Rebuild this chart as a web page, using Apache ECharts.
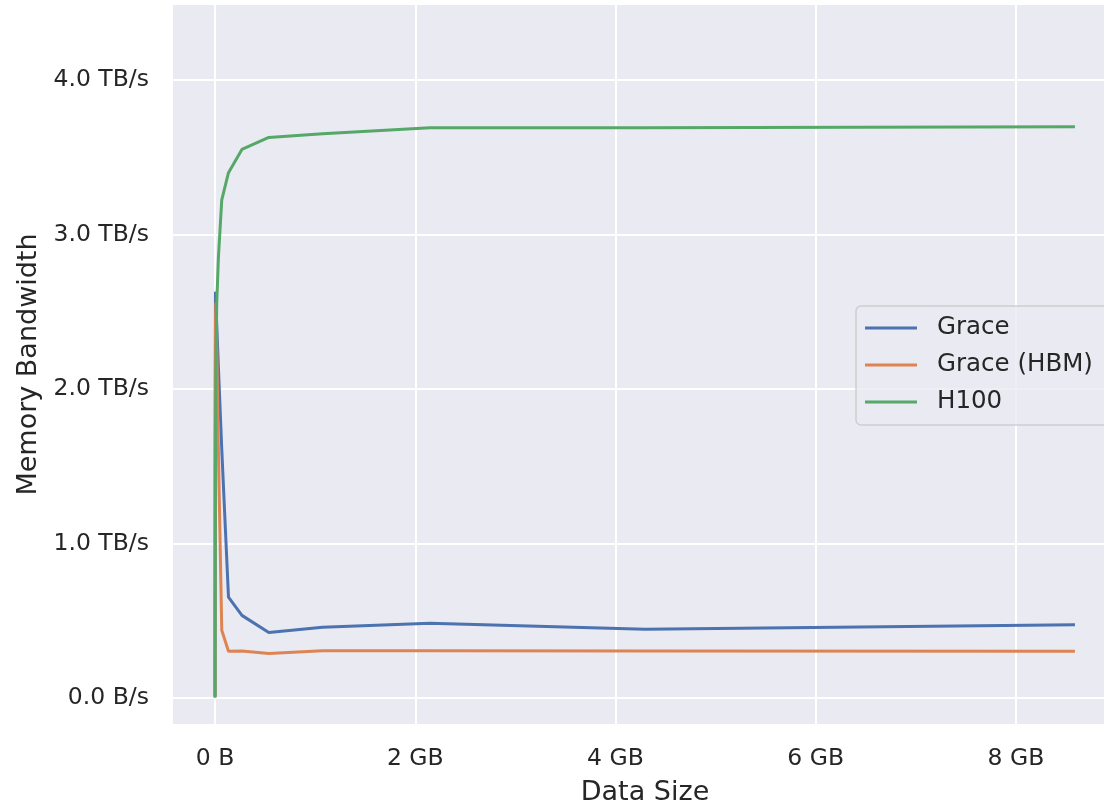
<!DOCTYPE html>
<html>
<head>
<meta charset="utf-8">
<script src="https://cdn.jsdelivr.net/npm/echarts@6/dist/echarts.min.js"></script>
<style>html,body{margin:0;padding:0;background:#fff;}#c{width:1104px;height:807px;}</style>
</head>
<body>
<div id="c"></div>
<script>
// Data sizes in bytes
const sizes = [4096, 16384, 65536, 262144, 1048576, 4194304, 8388608, 16777216, 33554432,
  67108864, 134217728, 268435456, 536870912, 1073741824, 2147483648, 4294967296, 8589934592];
// Memory bandwidth in TB/s
const grace    = [0.01, 0.05, 0.2, 0.7, 1.6, 2.63, 2.55, 2.42, 2.14, 1.61, 0.653, 0.535, 0.424, 0.458, 0.484, 0.445, 0.474];
const graceHBM = [0.01, 0.05, 0.2, 0.7, 1.5, 2.4, 2.56, 2.3, 1.6, 0.439, 0.303, 0.305, 0.288, 0.306, 0.306, 0.304, 0.303];
const h100     = [0.002, 0.01, 0.04, 0.15, 0.5, 1.5, 2.1, 2.55, 2.85, 3.224, 3.40, 3.55, 3.628, 3.652, 3.69, 3.69, 3.697];
const seriesNames = ['Grace', 'Grace (HBM)', 'H100'];
const xTicks = [0, 2e9, 4e9, 6e9, 8e9];
const yTicks = [0, 1, 2, 3, 4];

const colors = ['#4c72b0', '#dd8452', '#55a868'];
const FONT = 'DejaVu Sans';
const TXT = '#262626';

function pairs(vals) { return sizes.map((s, i) => [s, vals[i]]); }

const chart = echarts.init(document.getElementById('c'), null, {renderer: 'canvas'});
chart.setOption({
  animation: false,
  backgroundColor: '#ffffff',
  color: colors,
  textStyle: {fontFamily: FONT, color: TXT},
  grid: {left: 173, top: 5, width: 944, height: 719, containLabel: false, outerBoundsMode: 'none',
         show: true, backgroundColor: '#eaeaf2', borderWidth: 0},
  xAxis: {
    type: 'value', min: -0.42e9, max: 9.01e9,
    name: 'Data Size', nameLocation: 'middle', nameGap: 55,
    nameTextStyle: {fontFamily: FONT, fontSize: 27, color: TXT},
    axisLine: {show: false}, axisTick: {show: false, customValues: xTicks},
    axisLabel: {customValues: xTicks, fontFamily: FONT, fontSize: 23.5, color: TXT, margin: 23,
      formatter: v => v === 0 ? '0 B' : Math.round(v / 1e9) + ' GB'},
    splitLine: {show: true, lineStyle: {color: '#ffffff', width: 2}}
  },
  yAxis: {
    type: 'value', min: -0.168, max: 4.485,
    name: 'Memory Bandwidth', nameLocation: 'middle', nameGap: 131, nameRotate: 90,
    nameTextStyle: {fontFamily: FONT, fontSize: 27, color: TXT},
    axisLine: {show: false}, axisTick: {show: false, customValues: yTicks},
    axisLabel: {customValues: yTicks, fontFamily: FONT, fontSize: 23.5, color: TXT, margin: 24,
      formatter: v => v === 0 ? '0.0 B/s' : v.toFixed(1) + ' TB/s'},
    splitLine: {show: true, lineStyle: {color: '#ffffff', width: 2}}
  },
  legend: {
    data: seriesNames,
    orient: 'vertical', left: 856, top: 306,
    icon: 'rect', itemWidth: 52, itemHeight: 3, itemGap: 11,
    padding: [9, 40, 10, 9],
    backgroundColor: 'rgba(234,234,242,0.8)', borderColor: 'rgba(204,204,204,0.9)', borderWidth: 1.5, borderRadius: 5,
    textStyle: {fontFamily: FONT, fontSize: 24.5, color: TXT, lineHeight: 26, padding: [0, 0, 0, 15]}
  },
  series: [
    {name: seriesNames[0], type: 'line', data: pairs(grace), showSymbol: false, lineStyle: {width: 3}},
    {name: seriesNames[1], type: 'line', data: pairs(graceHBM), showSymbol: false, lineStyle: {width: 3}},
    {name: seriesNames[2], type: 'line', data: pairs(h100), showSymbol: false, lineStyle: {width: 3}}
  ]
});
</script>
</body>
</html>
